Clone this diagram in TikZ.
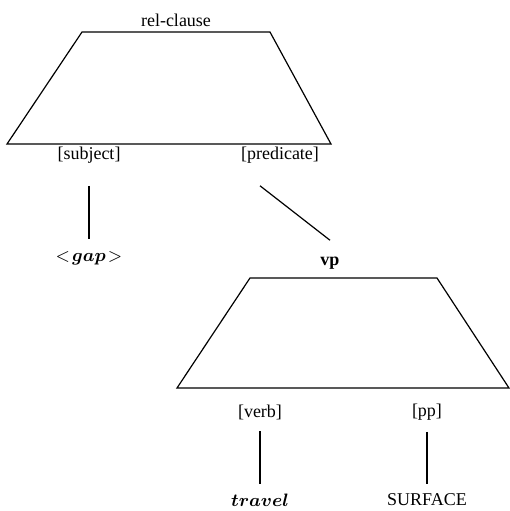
\documentclass[tikz,border=0pt]{standalone}
\usepackage{fontspec}
\usepackage{amsmath}
\setmainfont{Liberation Serif}
\usetikzlibrary{positioning}

\begin{document}
\begin{tikzpicture}[x=0.5pt,y=-0.5pt,line width=0.6pt,
  lbl/.style={font=\fontsize{9}{11}\selectfont,inner sep=1pt}]

\useasboundingbox (0,0) rectangle (510,511);

% upper tree
\draw (82,32)--(270,32)--(331,144)--(7,144)--cycle;
\node[lbl] (relclause) at (176,20) {rel-clause};
\node[lbl] (subj) at (89,155) {[subject]};
\node[lbl] (pred) at (280,155) {[predicate]};
\node[lbl] (gap) at (89,258) {$<\!\boldsymbol{gap}\!>$};
\node[lbl] (vp) at (330,263) {\textbf{vp}};
\draw ([yshift=-10pt]subj.south) -- ([yshift=5pt]gap.north);
\draw ([xshift=-10pt,yshift=-10pt]pred.south) -- ([yshift=7pt]vp.north);

% lower tree
\draw (250,278)--(437,278)--(509,388)--(177,388)--cycle;
\node[lbl] (verb) at (260,412) {[verb]};
\node[lbl] (pp) at (427,412) {[pp]};
\node[lbl] (travel) at (260,500) {$\boldsymbol{travel}$};
\node[lbl] (surface) at (427,500) {SURFACE};
\draw ([yshift=-4.5pt]verb.south) -- ([yshift=3.5pt]travel.north);
\draw ([yshift=-4.5pt]pp.south) -- ([yshift=3.5pt]surface.north);

\end{tikzpicture}
\end{document}
